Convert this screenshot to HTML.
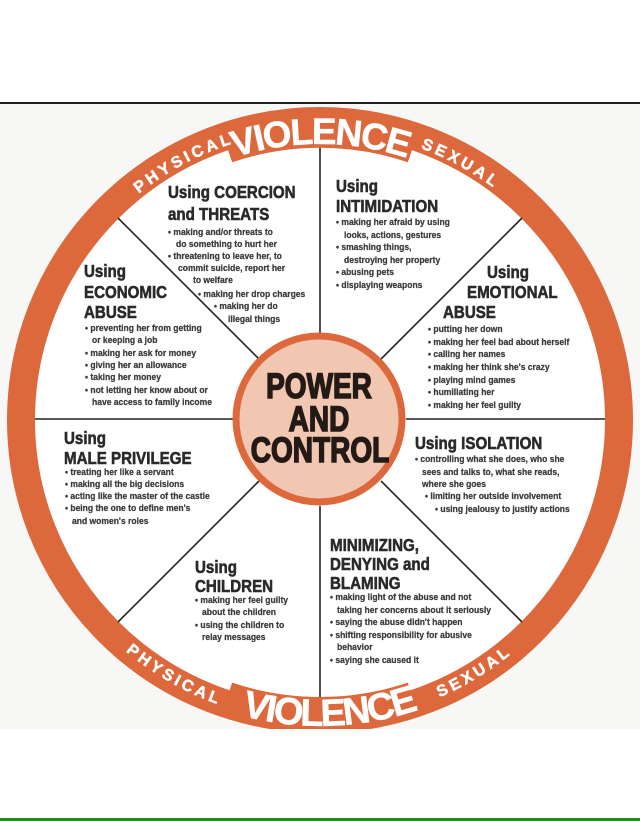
<!DOCTYPE html>
<html><head><meta charset="utf-8"><style>
html,body{margin:0;padding:0;background:#fff;}
svg{display:block;}
.b{font-family:"Liberation Sans",sans-serif;font-weight:bold;font-size:9.5px;fill:#3a3a3a;stroke:#3a3a3a;stroke-width:0.25;}
.h{font-family:"Liberation Sans",sans-serif;font-weight:bold;font-size:18px;fill:#2a2a2a;stroke:#2a2a2a;stroke-width:0.6;}
.r{font-family:"Liberation Sans",sans-serif;font-weight:bold;fill:#fff;stroke:#fff;stroke-width:0.5;}
</style></head><body>
<svg width="640" height="821" viewBox="0 0 640 821" xmlns="http://www.w3.org/2000/svg">
<defs>
<clipPath id="c"><rect x="0" y="104" width="640" height="625"/></clipPath>
<path id="tS" d="M 30,420 A 290 290 0 0 1 610,420"/>
<path id="tV" d="M 44,420 A 276 276 0 0 1 596,420"/>
<path id="bS" d="M 18,420 A 302 302 0 0 0 622,420"/>
<path id="bV" d="M 14,420 A 306 306 0 0 0 626,420"/>
</defs>
<rect x="0" y="0" width="640" height="821" fill="#fff"/>
<rect x="0" y="102" width="640" height="2" fill="#222"/>
<rect x="0" y="818" width="640" height="3" fill="#1f8a22"/>
<g clip-path="url(#c)">
<rect x="0" y="104" width="640" height="625" fill="#f7f7f6"/>
<circle cx="320" cy="420" r="299" fill="#fff" stroke="#dc683c" stroke-width="28"/>
<g stroke="#222" stroke-width="1.6">
<line x1="320" y1="136" x2="320" y2="334"/>
<line x1="320" y1="506" x2="320" y2="704"/>
<line x1="35" y1="419" x2="234" y2="419"/>
<line x1="406" y1="419" x2="605" y2="419"/>
<line x1="118" y1="218" x2="259" y2="359"/>
<line x1="522" y1="218" x2="381" y2="359"/>
<line x1="118" y1="622" x2="259" y2="481"/>
<line x1="522" y1="622" x2="381" y2="481"/>
</g>
<path d="M 228,150 A 285 285 0 0 1 412,150" fill="none" stroke="#dc683c" stroke-width="26"/>
<path d="M 228,695 A 290 290 0 0 0 412,695" fill="none" stroke="#dc683c" stroke-width="26"/>
<circle cx="319" cy="419" r="83" fill="#f2c7b2" stroke="#dc683c" stroke-width="7"/>
<text class="r" font-size="16" letter-spacing="3.5" text-anchor="middle"><textPath href="#tS" startOffset="34.5%">PHYSICAL</textPath></text>
<text class="r" font-size="37" letter-spacing="-2" text-anchor="middle"><textPath href="#tV" startOffset="50%">VIOLENCE</textPath></text>
<text class="r" font-size="16" letter-spacing="3.5" text-anchor="middle"><textPath href="#tS" startOffset="66%">SEXUAL</textPath></text>
<text class="r" font-size="16" letter-spacing="3.5" text-anchor="middle"><textPath href="#bS" startOffset="33.5%">PHYSICAL</textPath></text>
<text class="r" font-size="38" letter-spacing="-2" text-anchor="middle"><textPath href="#bV" startOffset="51%">VIOLENCE</textPath></text>
<text class="r" font-size="16" letter-spacing="3.5" text-anchor="middle"><textPath href="#bS" startOffset="67.5%">SEXUAL</textPath></text>
</g>
<g font-family="Liberation Sans,sans-serif" font-weight="bold" font-size="35" fill="#231a16" stroke="#231a16" stroke-width="1.6" text-anchor="middle">
<text transform="translate(319,398) scale(0.8,1)">POWER</text>
<text transform="translate(319,431) scale(0.8,1)">AND</text>
<text transform="translate(320,462) scale(0.8,1)">CONTROL</text>
</g>
<text class="h" transform="translate(168,198) scale(0.84,1)">Using COERCION</text>
<text class="h" transform="translate(168,220) scale(0.84,1)">and THREATS</text>
<text class="b" transform="translate(168,235) scale(0.9,1)">• making and/or threats to</text>
<text class="b" transform="translate(176,247) scale(0.9,1)">do something to hurt her</text>
<text class="b" transform="translate(168,259) scale(0.9,1)">• threatening to leave her, to</text>
<text class="b" transform="translate(178,271) scale(0.9,1)">commit suicide, report her</text>
<text class="b" transform="translate(193,283) scale(0.9,1)">to welfare</text>
<text class="b" transform="translate(198,297) scale(0.9,1)">• making her drop charges</text>
<text class="b" transform="translate(214,309) scale(0.9,1)">• making her do</text>
<text class="b" transform="translate(228,322) scale(0.9,1)">illegal things</text>
<text class="h" transform="translate(336,192) scale(0.84,1)">Using</text>
<text class="h" transform="translate(336,212) scale(0.84,1)">INTIMIDATION</text>
<text class="b" transform="translate(336,225) scale(0.9,1)">• making her afraid by using</text>
<text class="b" transform="translate(344,238) scale(0.9,1)">looks, actions, gestures</text>
<text class="b" transform="translate(336,250) scale(0.9,1)">• smashing things,</text>
<text class="b" transform="translate(344,263) scale(0.9,1)">destroying her property</text>
<text class="b" transform="translate(336,275) scale(0.9,1)">• abusing pets</text>
<text class="b" transform="translate(336,288) scale(0.9,1)">• displaying weapons</text>
<text class="h" transform="translate(84,277) scale(0.84,1)">Using</text>
<text class="h" transform="translate(84,298) scale(0.84,1)">ECONOMIC</text>
<text class="h" transform="translate(84,318) scale(0.84,1)">ABUSE</text>
<text class="b" transform="translate(85,331) scale(0.9,1)">• preventing her from getting</text>
<text class="b" transform="translate(92,343) scale(0.9,1)">or keeping a job</text>
<text class="b" transform="translate(85,356) scale(0.9,1)">• making her ask for money</text>
<text class="b" transform="translate(85,368) scale(0.9,1)">• giving her an allowance</text>
<text class="b" transform="translate(85,380) scale(0.9,1)">• taking her money</text>
<text class="b" transform="translate(85,393) scale(0.9,1)">• not letting her know about or</text>
<text class="b" transform="translate(92,405) scale(0.9,1)">have access to family income</text>
<text class="h" transform="translate(487,278) scale(0.84,1)">Using</text>
<text class="h" transform="translate(467,298) scale(0.84,1)">EMOTIONAL</text>
<text class="h" transform="translate(443,318) scale(0.84,1)">ABUSE</text>
<text class="b" transform="translate(428,332) scale(0.9,1)">• putting her down</text>
<text class="b" transform="translate(428,345) scale(0.9,1)">• making her feel bad about herself</text>
<text class="b" transform="translate(428,357) scale(0.9,1)">• calling her names</text>
<text class="b" transform="translate(428,370) scale(0.9,1)">• making her think she's crazy</text>
<text class="b" transform="translate(428,383) scale(0.9,1)">• playing mind games</text>
<text class="b" transform="translate(428,395) scale(0.9,1)">• humiliating her</text>
<text class="b" transform="translate(428,408) scale(0.9,1)">• making her feel guilty</text>
<text class="h" transform="translate(64,444) scale(0.84,1)">Using</text>
<text class="h" transform="translate(64,464) scale(0.84,1)">MALE PRIVILEGE</text>
<text class="b" transform="translate(65,475) scale(0.9,1)">• treating her like a servant</text>
<text class="b" transform="translate(65,487) scale(0.9,1)">• making all the big decisions</text>
<text class="b" transform="translate(65,499) scale(0.9,1)">• acting like the master of the castle</text>
<text class="b" transform="translate(65,511) scale(0.9,1)">• being the one to define men's</text>
<text class="b" transform="translate(72,524) scale(0.9,1)">and women's roles</text>
<text class="h" transform="translate(415,449) scale(0.84,1)">Using ISOLATION</text>
<text class="b" transform="translate(415,462) scale(0.9,1)">• controlling what she does, who she</text>
<text class="b" transform="translate(422,475) scale(0.9,1)">sees and talks to, what she reads,</text>
<text class="b" transform="translate(422,487) scale(0.9,1)">where she goes</text>
<text class="b" transform="translate(425,499) scale(0.9,1)">•  limiting her outside involvement</text>
<text class="b" transform="translate(435,512) scale(0.9,1)">• using jealousy to justify actions</text>
<text class="h" transform="translate(195,573) scale(0.84,1)">Using</text>
<text class="h" transform="translate(195,592) scale(0.84,1)">CHILDREN</text>
<text class="b" transform="translate(195,603) scale(0.9,1)">• making her feel guilty</text>
<text class="b" transform="translate(202,615) scale(0.9,1)">about the children</text>
<text class="b" transform="translate(195,628) scale(0.9,1)">• using the children to</text>
<text class="b" transform="translate(202,640) scale(0.9,1)">relay messages</text>
<text class="h" transform="translate(330,551) scale(0.84,1)">MINIMIZING,</text>
<text class="h" transform="translate(330,570) scale(0.84,1)">DENYING and</text>
<text class="h" transform="translate(330,589) scale(0.84,1)">BLAMING</text>
<text class="b" transform="translate(330,600) scale(0.9,1)">• making light of the abuse and not</text>
<text class="b" transform="translate(337,613) scale(0.9,1)">taking her concerns about it seriously</text>
<text class="b" transform="translate(330,625) scale(0.9,1)">•  saying the abuse didn't happen</text>
<text class="b" transform="translate(330,638) scale(0.9,1)">• shifting responsibility for abusive</text>
<text class="b" transform="translate(337,650) scale(0.9,1)">behavior</text>
<text class="b" transform="translate(330,663) scale(0.9,1)">• saying she caused it</text>
</svg>
</body></html>
